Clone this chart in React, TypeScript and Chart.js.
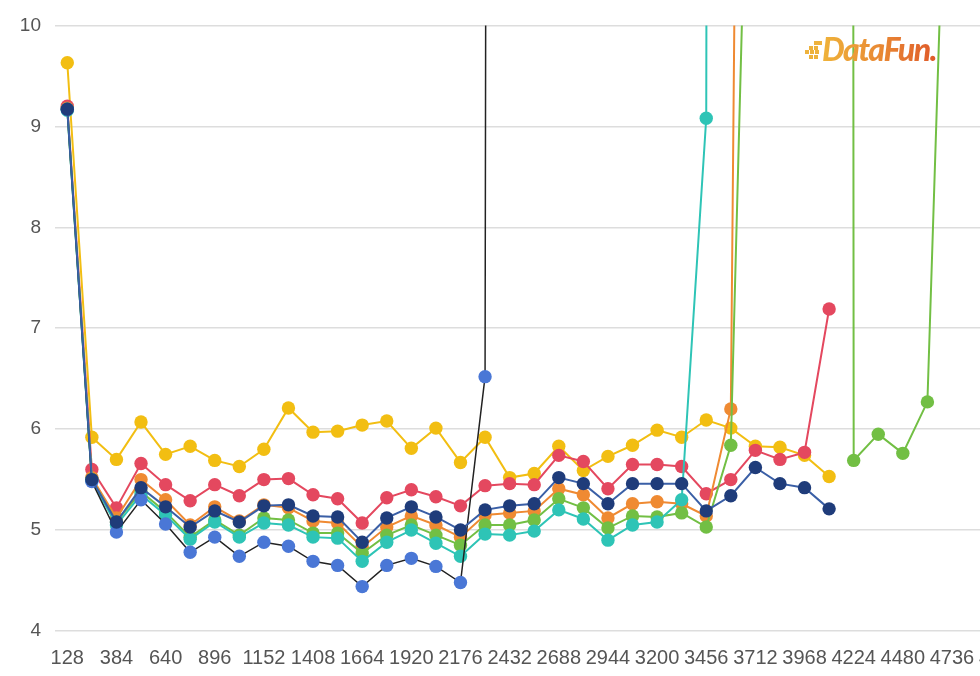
import React, { useEffect, useRef } from "react";
import { Chart, registerables } from "chart.js";

Chart.register(...registerables);

const categories = [
  "128", "256", "384", "512", "640", "768", "896", "1024", "1152", "1280",
  "1408", "1536", "1664", "1792", "1920", "2048", "2176", "2304", "2432", "2560",
  "2688", "2816", "2944", "3072", "3200", "3328", "3456", "3584", "3712", "3840",
  "3968", "4096", "4224", "4352", "4480", "4608", "4736", "4864", "4992", "5120",
];

const navySeries = [9.17, 5.5, 5.08, 5.42, 5.23, 5.03, 5.19, 5.08, 5.24, 5.25, 5.14, 5.13, 4.88, 5.12, 5.23, 5.13, 5.0, 5.2, 5.24, 5.26, 5.52, 5.46, 5.26, 5.46, 5.46, 5.46, 5.19, 5.34, 5.62, 5.46, 5.42, 5.21];
const blueSeries = [9.17, 5.48, 4.98, 5.3, 5.06, 4.78, 4.93, 4.74, 4.88, 4.84, 4.69, 4.65, 4.44, 4.65, 4.72, 4.64, 4.48, 6.52, 150];
const tealSeries = [9.16, 5.49, 5.05, 5.35, 5.15, 4.91, 5.08, 4.93, 5.07, 5.05, 4.93, 4.92, 4.69, 4.88, 5.0, 4.87, 4.74, 4.96, 4.95, 4.99, 5.2, 5.11, 4.9, 5.05, 5.08, 5.3, 9.08, 150];
const greenSeries = [9.17, 5.5, 5.08, 5.38, 5.18, 4.93, 5.1, 4.95, 5.12, 5.1, 4.97, 4.97, 4.77, 4.95, 5.05, 4.95, 4.85, 5.05, 5.05, 5.1, 5.31, 5.22, 5.02, 5.14, 5.13, 5.17, 5.03, 5.84, 15.1, 40, 80, 300, 5.69, 5.95, 5.76, 6.27, 13.9];
const orangeSeries = [9.18, 5.52, 5.12, 5.5, 5.3, 5.05, 5.23, 5.09, 5.25, 5.22, 5.09, 5.07, 4.83, 5.03, 5.14, 5.05, 4.93, 5.15, 5.17, 5.19, 5.41, 5.35, 5.12, 5.26, 5.28, 5.26, 5.14, 6.2, 33];
const redSeries = [9.2, 5.6, 5.22, 5.66, 5.45, 5.29, 5.45, 5.34, 5.5, 5.51, 5.35, 5.31, 5.07, 5.32, 5.4, 5.33, 5.24, 5.44, 5.46, 5.45, 5.74, 5.68, 5.41, 5.65, 5.65, 5.63, 5.36, 5.5, 5.79, 5.7, 5.77, 7.19];
const yellowSeries = [9.63, 5.92, 5.7, 6.07, 5.75, 5.83, 5.69, 5.63, 5.8, 6.21, 5.97, 5.98, 6.04, 6.08, 5.81, 6.01, 5.67, 5.92, 5.52, 5.56, 5.83, 5.59, 5.73, 5.84, 5.99, 5.92, 6.09, 6.01, 5.83, 5.82, 5.74, 5.53];

const yTicks = [4, 5, 6, 7, 8, 9, 10];

function ds(label: string, data: number[], line: string, point: string, width = 2) {
  return {
    label,
    data,
    borderColor: line,
    backgroundColor: point,
    pointBackgroundColor: point,
    pointBorderWidth: 0,
    pointRadius: 6.7,
    pointHoverRadius: 6.7,
    borderWidth: width,
    tension: 0,
    fill: false,
  };
}

export default function App() {
  const ref = useRef<HTMLCanvasElement | null>(null);

  useEffect(() => {
    if (!ref.current) return;
    const chart = new Chart(ref.current, {
      type: "line",
      data: {
        labels: categories,
        datasets: [
          ds("navy", navySeries, "#3a5fa6", "#1f3c7a"),
          ds("blue", blueSeries, "#222222", "#4a77d6", 1.5),
          ds("teal", tealSeries, "#2ec4b6", "#2ec4b6"),
          ds("green", greenSeries, "#72bf44", "#72bf44"),
          ds("orange", orangeSeries, "#ef8a32", "#ef8a32"),
          ds("red", redSeries, "#e4485f", "#e4485f"),
          ds("yellow", yellowSeries, "#f2be12", "#f2be12"),
        ],
      },
      options: {
        responsive: false,
        animation: false,
        devicePixelRatio: 1,
        layout: { padding: { top: 25, right: 15, left: 0, bottom: 0 } },
        plugins: { legend: { display: false }, tooltip: { enabled: false } },
        scales: {
          x: {
            offset: true,
            grid: { display: false, drawTicks: false },
            border: { display: false },
            ticks: {
              autoSkip: false,
              maxRotation: 0,
              padding: 15,
              color: "#555555",
              font: { family: "'Liberation Sans', Arial, sans-serif", size: 20 },
              callback: (_v: any, i: number) => (i % 2 === 0 ? categories[i] : ""),
            },
            afterFit: (s: any) => {
              s.height = 45;
            },
          },
          y: {
            min: 4,
            max: 10,
            afterBuildTicks: (s: any) => {
              s.ticks = yTicks.map((v) => ({ value: v }));
            },
            grid: { color: "#dddddd", lineWidth: 1.5, drawTicks: false },
            border: { display: false },
            ticks: {
              padding: 14,
              color: "#555555",
              font: { family: "'Liberation Sans', Arial, sans-serif", size: 19 },
            },
            afterFit: (s: any) => {
              s.width = 55;
            },
          },
        },
      },
    });
    return () => chart.destroy();
  }, []);

  return (
    <div style={{ position: "fixed", left: 0, top: 0, width: 980, height: 676, overflow: "hidden", background: "#fff" }}>
      <canvas ref={ref} width={1053} height={676} style={{ position: "absolute", left: 0, top: 0 }} />
      <div style={{ position: "absolute", left: 804, top: 31, display: "flex", alignItems: "center" }}>
        <div style={{ position: "relative", width: 18, height: 26, marginRight: 0 }}>
          {[[10, 5], [14, 5], [5, 10], [10, 10], [1, 14], [6, 14], [11, 14], [5, 19], [10, 19]].map(([x, y], k) => (
            <div key={k} style={{ position: "absolute", left: x, top: y, width: 3.5, height: 3.5, background: "#eeb23c" }} />
          ))}
        </div>
        <span
          style={{
            fontFamily: "Lato, 'Open Sans', sans-serif",
            fontWeight: 900,
            fontStyle: "italic",
            fontSize: 32,
            letterSpacing: -1.5,
            background: "linear-gradient(90deg, #efb33a 0%, #e98a34 50%, #df5a2a 100%)",
            WebkitBackgroundClip: "text",
            backgroundClip: "text",
            color: "transparent",
            lineHeight: "36px",
          }}
        >
          DataFun.
        </span>
      </div>
    </div>
  );
}
